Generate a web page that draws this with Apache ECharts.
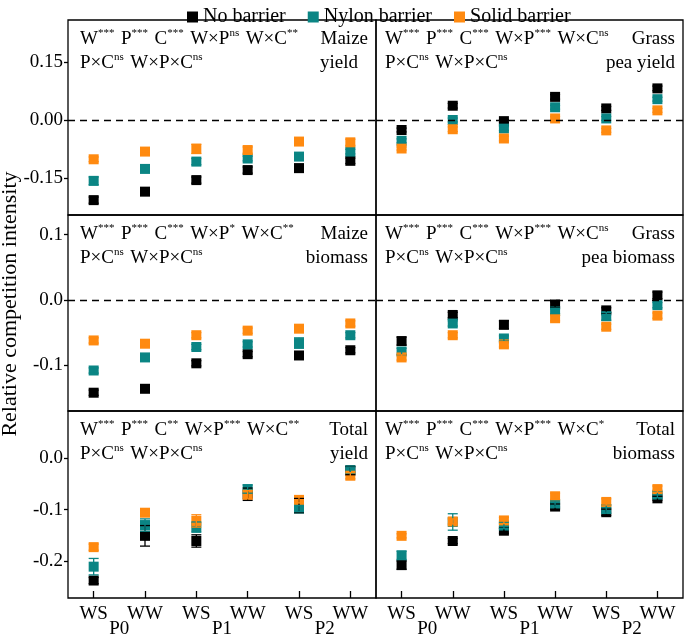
<!DOCTYPE html>
<html><head><meta charset="utf-8">
<script src="https://cdn.jsdelivr.net/npm/echarts@6/dist/echarts.min.js"></script>
<style>html,body{margin:0;padding:0;background:#fff}#c{width:685px;height:639px}</style>
</head><body><div id="c"></div><script>
// ---------- data ----------
const categories = ['WS','WW','WS','WW','WS','WW'];
const groups = ['P0','P0','P1','P1','P2','P2'];
const phosphorus = ['P0','P1','P2'];
const seriesNames = ['No barrier','Nylon barrier','Solid barrier'];

const maizeYieldNo    = [-0.208, -0.186, -0.156, -0.130, -0.125, -0.106];
const maizeYieldNylon = [-0.158, -0.127, -0.108, -0.100, -0.095, -0.082];
const maizeYieldSolid = [-0.102, -0.082, -0.075, -0.078, -0.056, -0.058];
const maizeYieldNoErr    = [0.008, 0.007, 0.008, 0.008, 0.010, 0.007];
const maizeYieldNylonErr = [0.010, 0.006, 0.008, 0.006, 0.008, 0.006];
const maizeYieldSolidErr = [0.006, 0.005, 0.012, 0.008, 0.006, 0.008];

const peaYieldNo    = [-0.026, 0.037, -0.003, 0.060, 0.030, 0.082];
const peaYieldNylon = [-0.054, 0.000, -0.022, 0.033, 0.004, 0.054];
const peaYieldSolid = [-0.074, -0.024, -0.048, 0.004, -0.027, 0.025];
const peaYieldNoErr    = [0.005, 0.006, 0.004, 0.006, 0.005, 0.006];
const peaYieldNylonErr = [0.005, 0.005, 0.005, 0.005, 0.005, 0.005];
const peaYieldSolidErr = [0.004, 0.006, 0.006, 0.005, 0.005, 0.005];

const maizeBiomassNo    = [-0.142, -0.136, -0.097, -0.083, -0.085, -0.077];
const maizeBiomassNylon = [-0.108, -0.088, -0.072, -0.068, -0.066, -0.054];
const maizeBiomassSolid = [-0.062, -0.067, -0.054, -0.047, -0.044, -0.036];
const maizeBiomassNoErr    = [0.004, 0.004, 0.004, 0.004, 0.005, 0.004];
const maizeBiomassNylonErr = [0.004, 0.004, 0.004, 0.004, 0.008, 0.004];
const maizeBiomassSolidErr = [0.004, 0.004, 0.004, 0.004, 0.004, 0.004];

const peaBiomassNo    = [-0.063, -0.023, -0.038, -0.007, -0.016, 0.007];
const peaBiomassNylon = [-0.079, -0.036, -0.059, -0.017, -0.025, -0.008];
const peaBiomassSolid = [-0.088, -0.054, -0.068, -0.028, -0.041, -0.024];
const peaBiomassNoErr    = [0.006, 0.004, 0.006, 0.004, 0.004, 0.005];
const peaBiomassNylonErr = [0.005, 0.004, 0.004, 0.004, 0.006, 0.004];
const peaBiomassSolidErr = [0.004, 0.004, 0.004, 0.004, 0.004, 0.004];

const totalYieldNo    = [-0.238, -0.151, -0.161, -0.070, -0.092, -0.024];
const totalYieldNylon = [-0.211, -0.130, -0.134, -0.060, -0.098, -0.023];
const totalYieldSolid = [-0.173, -0.106, -0.122, -0.071, -0.081, -0.034];
const totalYieldNoErr    = [0.006, 0.020, 0.012, 0.012, 0.014, 0.008];
const totalYieldNylonErr = [0.016, 0.012, 0.010, 0.008, 0.006, 0.006];
const totalYieldSolidErr = [0.006, 0.006, 0.012, 0.008, 0.006, 0.006];

const totalBiomassNo    = [-0.208, -0.161, -0.141, -0.094, -0.105, -0.078];
const totalBiomassNylon = [-0.189, -0.124, -0.131, -0.089, -0.099, -0.071];
const totalBiomassSolid = [-0.151, -0.123, -0.121, -0.074, -0.085, -0.060];
const totalBiomassNoErr    = [0.008, 0.005, 0.005, 0.005, 0.006, 0.004];
const totalBiomassNylonErr = [0.008, 0.016, 0.006, 0.006, 0.008, 0.006];
const totalBiomassSolidErr = [0.004, 0.005, 0.006, 0.006, 0.006, 0.006];

const statsLine2 = [['P×C','ns'],['W×P×C','ns']];
const maizeYieldStats   = [['W','***'],['P','***'],['C','***'],['W×P','ns'],['W×C','**']];
const peaYieldStats     = [['W','***'],['P','***'],['C','***'],['W×P','***'],['W×C','ns']];
const maizeBiomassStats = [['W','***'],['P','***'],['C','***'],['W×P','*'],['W×C','**']];
const peaBiomassStats   = [['W','***'],['P','***'],['C','***'],['W×P','***'],['W×C','ns']];
const totalYieldStats   = [['W','***'],['P','***'],['C','**'],['W×P','***'],['W×C','**']];
const totalBiomassStats = [['W','***'],['P','***'],['C','***'],['W×P','***'],['W×C','*']];

const rowTicks = [[-0.15, 0, 0.15], [-0.1, 0, 0.1], [-0.2, -0.1, 0]];
const yAxisTitle = 'Relative competition intensity';

// ---------- layout ----------
const FONT = '"Liberation Serif", "Times New Roman", serif';
const colors = ['#000000', '#0b8584', '#ff8a10'];
const colX = [68, 376], colW = [308, 307];
const rowY = [20, 215, 411], rowH = [195, 196, 194];
const rowRange = [[-0.2466, 0.2595], [-0.170, 0.130], [-0.272, 0.092]];
const rowDec = [2, 1, 1];

const panels = [
  {row:0,col:0, vals:[maizeYieldNo,maizeYieldNylon,maizeYieldSolid], errs:[maizeYieldNoErr,maizeYieldNylonErr,maizeYieldSolidErr], stats:maizeYieldStats, name:['Maize','yield'], secondLeft:true, zero:true},
  {row:0,col:1, vals:[peaYieldNo,peaYieldNylon,peaYieldSolid], errs:[peaYieldNoErr,peaYieldNylonErr,peaYieldSolidErr], stats:peaYieldStats, name:['Grass','pea yield'], zero:true},
  {row:1,col:0, vals:[maizeBiomassNo,maizeBiomassNylon,maizeBiomassSolid], errs:[maizeBiomassNoErr,maizeBiomassNylonErr,maizeBiomassSolidErr], stats:maizeBiomassStats, name:['Maize','biomass'], zero:true},
  {row:1,col:1, vals:[peaBiomassNo,peaBiomassNylon,peaBiomassSolid], errs:[peaBiomassNoErr,peaBiomassNylonErr,peaBiomassSolidErr], stats:peaBiomassStats, name:['Grass','pea biomass'], zero:true},
  {row:2,col:0, vals:[totalYieldNo,totalYieldNylon,totalYieldSolid], errs:[totalYieldNoErr,totalYieldNylonErr,totalYieldSolidErr], stats:totalYieldStats, name:['Total','yield'], zero:false},
  {row:2,col:1, vals:[totalBiomassNo,totalBiomassNylon,totalBiomassSolid], errs:[totalBiomassNoErr,totalBiomassNylonErr,totalBiomassSolidErr], stats:totalBiomassStats, name:['Total','biomass'], zero:false}
];

const catIds = categories.map((c, i) => groups[i] + '|' + c);
const grid = [], xAxis = [], yAxis = [], series = [], graphic = [];
const rich = {
  n: {fontSize: 19, fontFamily: FONT, lineHeight: 22, color: '#000'},
  s: {fontSize: 11, fontFamily: FONT, lineHeight: 10, verticalAlign: 'top', color: '#000'},
  g: {fontSize: 26, fontFamily: FONT, lineHeight: 22}
};
function statText(terms) {
  return terms.map(t => '{n|' + t[0] + '}{s|' + t[1] + '}').join('{g|\u00a0}');
}
function renderErr(params, api) {
  const x = api.value(0), y = api.value(1), e = api.value(2);
  const hi = api.coord([x, y + e]), lo = api.coord([x, y - e]);
  const hw = 5;
  const style = {stroke: api.visual('color'), lineWidth: 1.3, fill: null};
  return {type: 'group', children: [
    {type: 'line', shape: {x1: hi[0], y1: hi[1], x2: lo[0], y2: lo[1]}, style: style},
    {type: 'line', shape: {x1: hi[0] - hw, y1: hi[1], x2: hi[0] + hw, y2: hi[1]}, style: style},
    {type: 'line', shape: {x1: lo[0] - hw, y1: lo[1], x2: lo[0] + hw, y2: lo[1]}, style: style}
  ]};
}

panels.forEach((p, gi) => {
  const left = colX[p.col], top = rowY[p.row], w = colW[p.col], h = rowH[p.row];
  grid.push({left: left, top: top, width: w, height: h, show: true, borderColor: '#000', borderWidth: 1.3, backgroundColor: 'transparent'});
  const bottomRow = p.row === 2;
  const xi = xAxis.length;
  xAxis.push({
    type: 'category', gridIndex: gi, data: catIds, boundaryGap: true, position: 'bottom',
    axisLine: {show: false, onZero: false},
    axisTick: {show: bottomRow, inside: true, alignWithLabel: true, length: 7, lineStyle: {color: '#000', width: 1.3}},
    axisLabel: {show: bottomRow, formatter: v => v.split('|')[1], fontFamily: FONT, fontSize: 19, color: '#000', margin: 7},
    splitLine: {show: false}
  });
  if (bottomRow) {
    xAxis.push({
      type: 'category', gridIndex: gi, data: phosphorus, position: 'bottom', offset: 19,
      axisLine: {show: false, onZero: false}, axisTick: {show: false}, splitLine: {show: false},
      axisLabel: {fontFamily: FONT, fontSize: 19, color: '#000', margin: 3}
    });
  }
  const yi = yAxis.length;
  const dec = rowDec[p.row];
  yAxis.push({
    type: 'value', gridIndex: gi, min: rowRange[p.row][0], max: rowRange[p.row][1],
    splitLine: {show: false}, axisLine: {show: false, onZero: false},
    axisTick: {show: p.col === 0, customValues: rowTicks[p.row], length: 4, lineStyle: {color: '#000', width: 1.3}},
    axisLabel: {show: p.col === 0, customValues: rowTicks[p.row], formatter: v => v.toFixed(dec),
      fontFamily: FONT, fontSize: 19, color: '#000', margin: 5}
  });
  for (let s = 0; s < 3; s++) {
    series.push({
      type: 'scatter', name: seriesNames[s], xAxisIndex: xi, yAxisIndex: yi,
      symbol: 'rect', symbolSize: 10, itemStyle: {color: colors[s], opacity: 1},
      data: p.vals[s].map((v, i) => [i, v]), z: 2, silent: true
    });
  }
  for (let s = 0; s < 3; s++) {
    const ser = {
      type: 'custom', name: seriesNames[s], xAxisIndex: xi, yAxisIndex: yi,
      itemStyle: {color: colors[s]}, renderItem: renderErr, encode: {x: 0, y: 1}, z: 3, silent: true,
      data: p.vals[s].map((v, i) => [i, v, p.errs[s][i]])
    };
    if (s === 2 && p.zero) {
      ser.markLine = {silent: true, symbol: 'none', label: {show: false},
        lineStyle: {type: [7, 5], color: '#000', width: 1.3}, data: [{yAxis: 0}]};
    }
    series.push(ser);
  }
  // annotations
  const y1 = top + 19, y2 = top + 43;
  const tx = left + (p.col === 0 ? 12 : 9);
  graphic.push({type: 'text', x: tx, y: y1, z: 10, style: {text: statText(p.stats), rich: rich, align: 'left', verticalAlign: 'middle', textAlign: 'left', textVerticalAlign: 'middle'}});
  graphic.push({type: 'text', x: tx, y: y2, z: 10, style: {text: statText(statsLine2), rich: rich, align: 'left', verticalAlign: 'middle', textAlign: 'left', textVerticalAlign: 'middle'}});
  const rx = left + w - 8;
  graphic.push({type: 'text', x: rx, y: y1, z: 10, style: {text: p.name[0], fontFamily: FONT, fontSize: 19, fill: '#000', align: 'right', verticalAlign: 'middle', textAlign: 'right', textVerticalAlign: 'middle'}});
  if (p.secondLeft) {
    graphic.push({type: 'text', x: left + w - 56, y: y2, z: 10, style: {text: p.name[1], fontFamily: FONT, fontSize: 19, fill: '#000', align: 'left', verticalAlign: 'middle', textAlign: 'left', textVerticalAlign: 'middle'}});
  } else {
    graphic.push({type: 'text', x: rx, y: y2, z: 10, style: {text: p.name[1], fontFamily: FONT, fontSize: 19, fill: '#000', align: 'right', verticalAlign: 'middle', textAlign: 'right', textVerticalAlign: 'middle'}});
  }
});

graphic.push({type: 'text', x: 10, y: 304, rotation: Math.PI / 2, z: 10,
  style: {text: yAxisTitle, fontFamily: FONT, fontSize: 22, fill: '#000', align: 'center', verticalAlign: 'middle', textAlign: 'center', textVerticalAlign: 'middle'}});

const chart = echarts.init(document.getElementById('c'), null, {renderer: 'canvas'});
chart.setOption({
  animation: false,
  backgroundColor: '#fff',
  textStyle: {fontFamily: FONT},
  legend: {
    data: seriesNames.map((n, i) => ({name: n, icon: 'rect', itemStyle: {color: colors[i]}})),
    left: 182, top: 2, itemWidth: 11, itemHeight: 11, itemGap: 22,
    textStyle: {fontFamily: FONT, fontSize: 20, color: '#000'}, selectedMode: false
  },
  grid: grid, xAxis: xAxis, yAxis: yAxis, series: series, graphic: graphic
});
</script></body></html>
